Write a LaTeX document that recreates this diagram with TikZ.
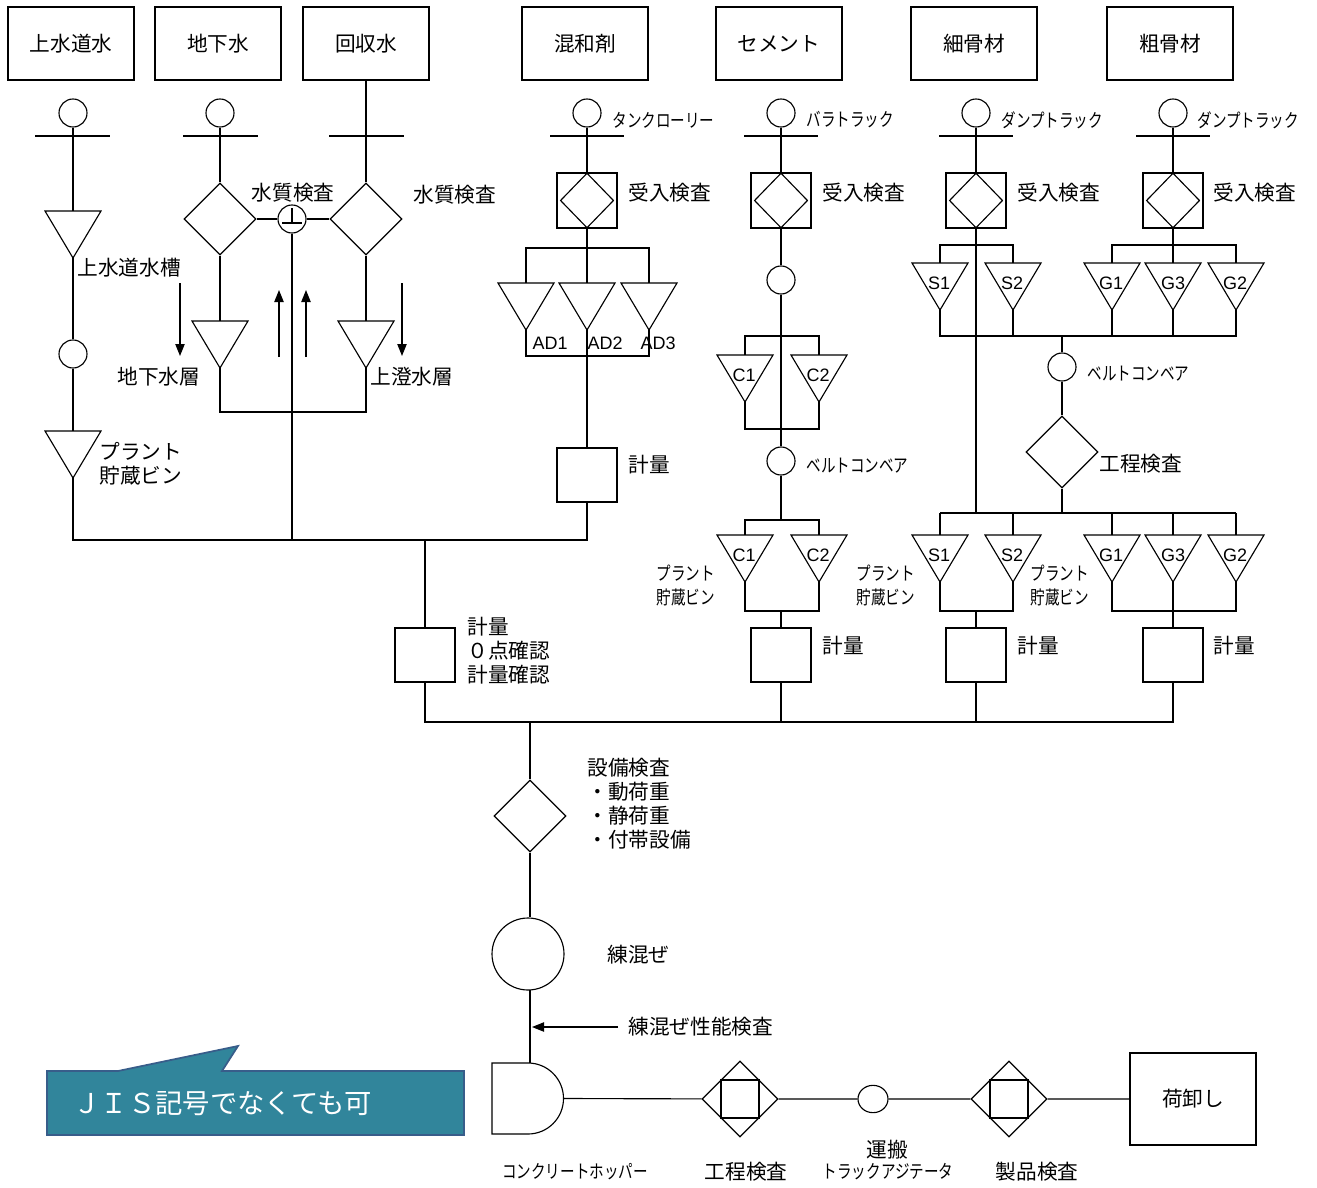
\documentclass[tikz,border=0pt]{standalone}
\usepackage{fontspec}
\setmainfont{Noto Sans CJK JP}
\newfontfamily\nar[FakeStretch=0.78]{Noto Sans CJK JP}
\newfontfamily\lat{Liberation Sans}
\usetikzlibrary{shapes.geometric,arrows.meta}
\definecolor{calloutfill}{RGB}{49,133,155}
\definecolor{calloutline}{RGB}{56,93,138}
\tikzset{
 topbox/.style={draw, minimum width=94.5pt, minimum height=54.75pt, inner sep=0, font=\fontsize{15.5}{18}\selectfont},
 circ/.style={circle, draw, minimum size=21pt, inner sep=0},
 bigcirc/.style={circle, draw, minimum size=54pt, inner sep=0},
 dia/.style={diamond, draw, minimum width=54pt, minimum height=54pt, inner sep=0},
 rcvbox/.style={draw, minimum width=45pt, minimum height=41.25pt, inner sep=0},
 rcvdia/.style={diamond, draw, minimum width=40pt, minimum height=41.25pt, inner sep=0},
 meas/.style={draw, minimum width=45pt, minimum height=40.5pt, inner sep=0},
 lbl/.style={anchor=west, inner sep=0, font=\fontsize{15.5}{18}\selectfont},
 clbl/.style={inner sep=0, font=\fontsize{15.5}{18}\selectfont},
 nlbl/.style={anchor=west, inner sep=0, font=\nar\fontsize{14}{18}\selectfont},
 cnlbl/.style={inner sep=0, font=\nar\fontsize{14}{18}\selectfont},
 tlbl/.style={inner sep=0, font=\lat\fontsize{13.5}{15}\selectfont},
 arr/.style={-{Triangle[length=9pt,width=7pt]}},
 tri/.pic={\draw (-28,0) -- (28,0) -- (0,47) -- cycle;
   \coordinate (-top) at (0,0); \coordinate (-apex) at (0,47);},
}
\begin{document}
\begin{tikzpicture}[x=0.75pt, y=-0.75pt, line width=0.85pt]
\useasboundingbox (0,0) rectangle (1317,1188);

% ---------- source boxes ----------
\node[topbox] (src1) at (71,43.5) {上水道水};
\node[topbox] (src2) at (218,43.5) {地下水};
\node[topbox] (src3) at (366,43.5) {回収水};
\node[topbox] (src4) at (585,43.5) {混和剤};
\node[topbox] (src5) at (779,43.5) {セメント};
\node[topbox] (src6) at (974,43.5) {細骨材};
\node[topbox] (src7) at (1170,43.5) {粗骨材};

% ---------- column 1 : 上水道水 ----------
\node[circ] (w1c) at (73,113) {};
\draw (35,136) -- (110,136);
\pic (w1t) at (73,211) {tri};
\draw (w1c) -- (w1t-top);
\node[lbl] at (77,268) {上水道水槽};
\node[circ] (w1c2) at (73,354) {};
\draw (w1t-apex) -- (w1c2);
\pic (w1t2) at (73,431) {tri};
\draw (w1c2) -- (w1t2-top);
\node[lbl, align=left] at (99,464) {プラント\\貯蔵ビン};

% ---------- column 2 : 地下水 ----------
\node[circ] (w2c) at (220,113) {};
\draw (183,136) -- (258,136);
\node[dia] (w2d) at (220,219) {};
\draw (w2c) -- (w2d);
\pic (w2t) at (220,321) {tri};
\draw (w2d) -- (w2t-top);
\draw[arr] (180,283) -- (180,356);
\node[lbl] at (117,377) {地下水層};

% ---------- water quality check ----------
\node[circ] (qc) at (292,219) {};
\draw (292,208) -- (292,223) (282,223) -- (302,223);
\node[clbl] at (293,193) {水質検査};
\draw[arr] (279,357) -- (279,290);
\draw[arr] (306,357) -- (306,290);

% ---------- column 3 : 回収水 ----------
\node[dia] (w3d) at (366,219) {};
\draw (src3) -- (w3d);
\draw (329,136) -- (404,136);
\node[lbl] at (413,195) {水質検査};
\pic (w3t) at (366,321) {tri};
\draw (w3d) -- (w3t-top);
\draw[arr] (402,283) -- (402,356);
\node[lbl] at (370,377) {上澄水層};
\draw (w2d) -- (qc) -- (w3d);
\draw (w2t-apex) -- (220,412) -- (366,412) -- (w3t-apex);

% ---------- column 4 : 混和剤 ----------
\node[circ] (ac) at (587,113) {};
\node[nlbl] at (612,120) {タンクローリー};
\draw (550,136) -- (624,136);
\node[rcvbox] (ar) at (587,200.5) {};
\node[rcvdia] (ard) at (587,200.5) {};
\node[lbl] at (628,193) {受入検査};
\draw (ac) -- (ar);
\pic (at1) at (526,283) {tri};
\pic (at2) at (587,283) {tri};
\pic (at3) at (649,283) {tri};
\draw (at1-top) -- (526,248) -- (649,248) -- (at3-top);
\draw (ar) -- (at2-top);
\draw (at1-apex) -- (526,356) -- (649,356) -- (at3-apex);
\node[tlbl, anchor=west] at (532,343) {AD1};
\node[tlbl, anchor=west] at (587,343) {AD2};
\node[tlbl, anchor=west] at (640,343) {AD3};
\node[meas] (am) at (587,475) {};
\node[lbl] at (628,465) {計量};
\draw (at2-apex) -- (am);

% ---------- water bus ----------
\draw (w1t2-apex) -- (73,540) -- (587,540) -- (am);
\draw (qc) -- (292,540);
\node[meas] (wm) at (425,655) {};
\draw (425,540) -- (wm);
\node[lbl, align=left] at (467,651) {計量\\０点確認\\計量確認};

% ---------- column 5 : セメント ----------
\node[circ] (cc) at (781,113) {};
\node[nlbl] at (806,120) {バラトラック};
\draw (744,136) -- (818,136);
\node[rcvbox] (cr) at (781,200.5) {};
\node[rcvdia] (crd) at (781,200.5) {};
\node[lbl] at (822,193) {受入検査};
\node[circ] (cc2) at (781,280) {};
\draw (cc) -- (cr) -- (cc2);
\pic (ct1) at (745,355) {tri};
\pic (ct2) at (819,355) {tri};
\draw (ct1-top) -- (745,336) -- (819,336) -- (ct2-top);
\draw (ct1-apex) -- (745,429) -- (819,429) -- (ct2-apex);
\node[tlbl] at (744,375) {C1};
\node[tlbl] at (818,375) {C2};
\node[circ] (cc3) at (781,461) {};
\node[nlbl] at (806,466) {ベルトコンベア};
\draw (cc2) -- (cc3);
\pic (ct3) at (745,535) {tri};
\pic (ct4) at (819,535) {tri};
\draw (cc3) -- (781,520);
\draw (ct3-top) -- (745,520) -- (819,520) -- (ct4-top);
\draw (ct3-apex) -- (745,611) -- (819,611) -- (ct4-apex);
\node[tlbl] at (744,555) {C1};
\node[tlbl] at (818,555) {C2};
\node[meas] (cm) at (781,655) {};
\draw (781,611) -- (cm);
\node[lbl] at (822,646) {計量};
\node[nlbl, align=left] at (656,586) {プラント\\貯蔵ビン};

% ---------- column 6 : 細骨材 ----------
\node[circ] (sc) at (976,113) {};
\node[nlbl] at (1001,120) {ダンプトラック};
\draw (939,136) -- (1013,136);
\node[rcvbox] (sr) at (976,200.5) {};
\node[rcvdia] (srd) at (976,200.5) {};
\node[lbl] at (1017,193) {受入検査};
\draw (sc) -- (sr);
\draw (sr) -- (976,513);
\pic (st1) at (940,263) {tri};
\pic (st2) at (1013,263) {tri};
\draw (st1-top) -- (940,245) -- (1013,245) -- (st2-top);
\node[tlbl] at (939,283) {S1};
\node[tlbl] at (1012,283) {S2};

% ---------- column 7 : 粗骨材 ----------
\node[circ] (gc) at (1173,113) {};
\node[nlbl] at (1197,120) {ダンプトラック};
\draw (1136,136) -- (1210,136);
\node[rcvbox] (gr) at (1173,200.5) {};
\node[rcvdia] (grd) at (1173,200.5) {};
\node[lbl] at (1213,193) {受入検査};
\draw (gc) -- (gr);
\pic (gt1) at (1112,263) {tri};
\pic (gt2) at (1173,263) {tri};
\pic (gt3) at (1236,263) {tri};
\draw (gt1-top) -- (1112,245) -- (1236,245) -- (gt3-top);
\draw (gr) -- (gt2-top);
\node[tlbl] at (1111,283) {G1};
\node[tlbl] at (1173,283) {G3};
\node[tlbl] at (1235,283) {G2};

% aggregate merge
\draw (st1-apex) -- (940,336) -- (1236,336) -- (gt3-apex);
\draw (st2-apex) -- (1013,336);
\draw (gt1-apex) -- (1112,336);
\draw (gt2-apex) -- (1173,336);
\node[circ] (bc) at (1062,367) {};
\node[nlbl] at (1087,374) {ベルトコンベア};
\node[dia] (kd) at (1062,452) {};
\node[lbl] at (1099,464) {工程検査};
\draw (1062,336) -- (bc) -- (kd) -- (1062,513);
\draw (940,513) -- (1236,513);
\pic (st3) at (940,535) {tri};
\pic (st4) at (1013,535) {tri};
\pic (gt4) at (1112,535) {tri};
\pic (gt5) at (1173,535) {tri};
\pic (gt6) at (1236,535) {tri};
\draw (940,513) -- (st3-top) (1013,513) -- (st4-top) (1112,513) -- (gt4-top)
      (1173,513) -- (gt5-top) (1236,513) -- (gt6-top);
\node[tlbl] at (939,555) {S1};
\node[tlbl] at (1012,555) {S2};
\node[tlbl] at (1111,555) {G1};
\node[tlbl] at (1173,555) {G3};
\node[tlbl] at (1235,555) {G2};
\draw (st3-apex) -- (940,611) -- (1013,611) -- (st4-apex);
\draw (gt4-apex) -- (1112,611) -- (1236,611) -- (gt6-apex);
\node[meas] (sm) at (976,655) {};
\node[meas] (gm) at (1173,655) {};
\draw (976,611) -- (sm);
\draw (gt5-apex) -- (gm);
\node[lbl] at (1017,646) {計量};
\node[lbl] at (1213,646) {計量};
\node[nlbl, align=left] at (856,586) {プラント\\貯蔵ビン};
\node[nlbl, align=left] at (1030,586) {プラント\\貯蔵ビン};

% ---------- main bus ----------
\draw (wm) -- (425,722) -- (1173,722) -- (gm);
\draw (cm) -- (781,722);
\draw (sm) -- (976,722);

% ---------- equipment check & mixing ----------
\node[dia] (ed) at (530,816) {};
\draw (530,722) -- (ed);
\node[lbl, align=left] at (587,804) {設備検査\\・動荷重\\・静荷重\\・付帯設備};
\node[bigcirc] (mix) at (528,954) {};
\draw (ed) -- (mix.north -| ed);
\node[lbl] at (607,955) {練混ぜ};
\coordinate (hopT) at (530,1063);
\draw (530,990) -- (hopT);
\coordinate (chkE) at (618,1027);
\draw[arr] (chkE) -- (532,1027);
\node[lbl] at (628,1027) {練混ぜ性能検査};

% ---------- hopper & delivery ----------
\draw (528,1063) -- (492,1063) -- (492,1134) -- (528,1134) arc (90:-90:35.5);
\coordinate (hopE) at (563.5,1098.5);
\node[cnlbl] at (575,1172) {コンクリートホッパー};
\node[diamond, draw, minimum width=57pt, minimum height=57pt, inner sep=0] (p1) at (740,1099) {};
\node[draw, minimum size=28.5pt, inner sep=0] (p1s) at (740,1099) {};
\node[clbl] at (746,1172) {工程検査};
\node[ellipse, draw, minimum width=22.5pt, minimum height=20.5pt, inner sep=0] (tr) at (873,1099) {};
\node[clbl] at (887,1150) {運搬};
\node[cnlbl] at (888,1172) {トラックアジテータ};
\node[diamond, draw, minimum width=57pt, minimum height=57pt, inner sep=0] (p2) at (1009,1099) {};
\node[draw, minimum size=28.5pt, inner sep=0] (p2s) at (1009,1099) {};
\node[clbl] at (1037,1172) {製品検査};
\node[draw, minimum width=94.5pt, minimum height=69pt, inner sep=0, font=\fontsize{15.5}{18}\selectfont] (unl) at (1193,1099) {荷卸し};
\draw (hopE) -- (p1) -- (tr) -- (p2) -- (unl);

% ---------- callout ----------
\draw[fill=calloutfill, draw=calloutline, line width=1.3pt]
  (47,1071) -- (118,1071) -- (238,1046) -- (222,1071) -- (464,1071) -- (464,1135) -- (47,1135) -- cycle;
\node[anchor=west, inner sep=0, text=white, font=\fontsize{20.5}{24}\selectfont] (callout) at (73,1104) {ＪＩＳ記号でなくても可};
\end{tikzpicture}
\end{document}
